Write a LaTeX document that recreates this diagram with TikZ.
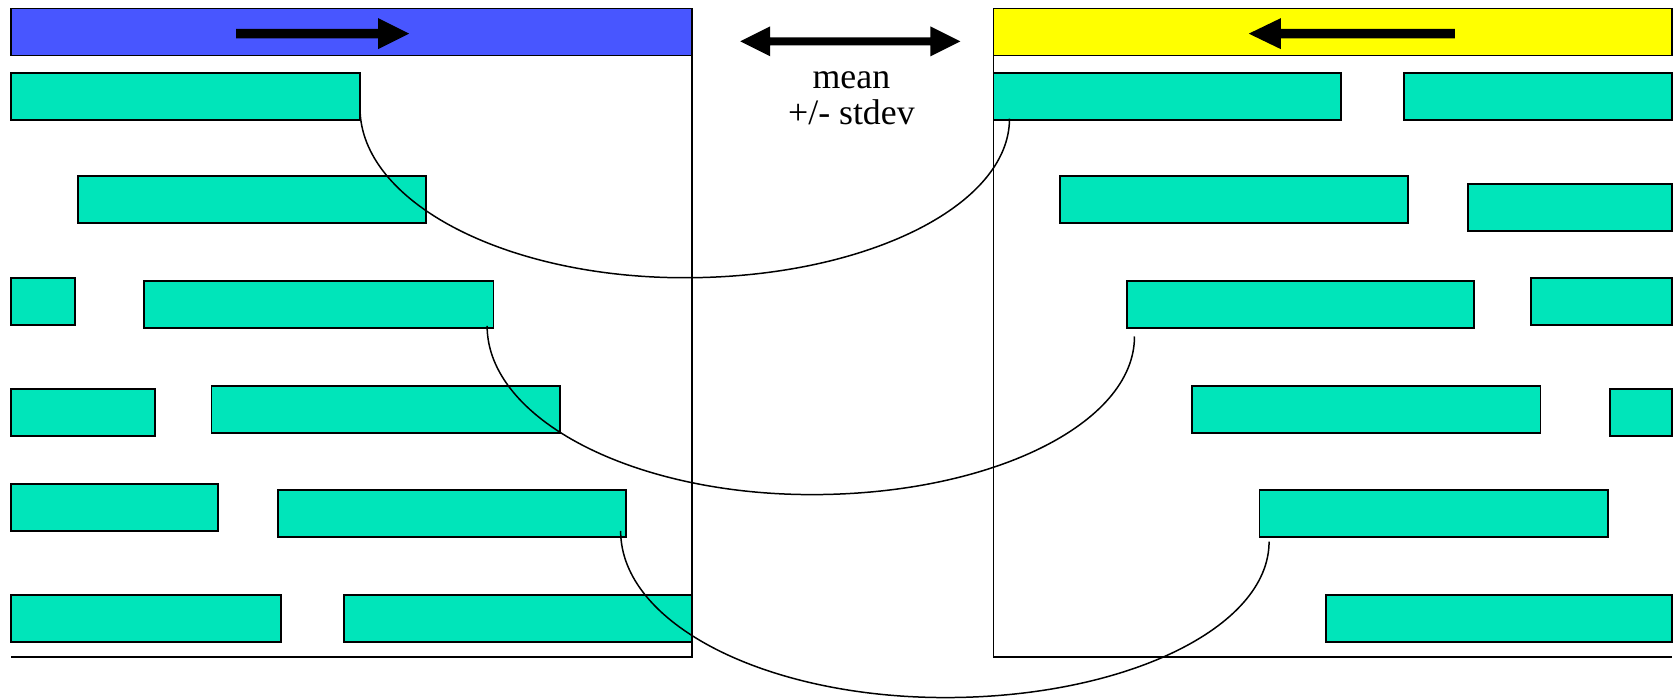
\documentclass[tikz,border=0pt]{standalone}
\usepackage{fontspec}
\setmainfont{Liberation Serif}
\definecolor{barblue}{RGB}{72,86,255}
\definecolor{baryellow}{RGB}{255,255,0}
\definecolor{segteal}{RGB}{0,229,186}
\begin{document}
\begin{tikzpicture}[x=1pt,y=-1pt,
  headbar/.style={draw=black, line width=1.7pt, inner sep=0pt, outer sep=0pt,
    anchor=north west, minimum height=44pt},
  segbox/.style={draw=black, fill=segteal, line width=1.7pt, inner sep=0pt,
    outer sep=0pt, anchor=north west, minimum height=44pt},
  panel/.style={draw=black, line width=1.4pt},
  link/.style={draw=black, line width=1.4pt},
  label/.style={font=\fontsize{33.5}{34}\selectfont, align=center, inner sep=0pt}]
  \useasboundingbox (0,0) rectangle (1568,655);

  % strand bars
  \node[headbar, fill=barblue, minimum width=638pt] (lbar) at (10,8) {};
  \node[headbar, fill=baryellow, minimum width=635pt] (rbar) at (930,8) {};

  % direction arrows inside the bars
  \fill[black] (221,27) -- (354,27) -- (354,17) -- (383,31.5) -- (354,46)
    -- (354,36) -- (221,36) -- cycle;
  \fill[black] (1362,27) -- (1199,27) -- (1199,17) -- (1169,31.5) -- (1199,46)
    -- (1199,36) -- (1362,36) -- cycle;

  % insert size arrow and its label
  \fill[black] (693,38.7) -- (721,24.7) -- (721,35) -- (871,35) -- (871,24.7)
    -- (899,38.7) -- (871,52.7) -- (871,42.4) -- (721,42.4) -- (721,52.7) -- cycle;
  \node[label] (gap) at (797,92) {mean\\+/- stdev};

  % panel frames
  \coordinate (lfoot) at (648,615);
  \coordinate (lbase) at (10,615);
  \coordinate (rfoot) at (930,615);
  \coordinate (rbase) at (1565,615);
  \draw[panel] (lbar.south east) -- (lfoot) -- (lbase);
  \draw[panel] (rbar.south west) -- (rfoot) -- (rbase);

  % left reads
  \node[segbox, minimum width=327pt] (L1)  at (10,68)  {};
  \node[segbox, minimum width=326pt] (L2)  at (73,165) {};
  \node[segbox, minimum width=60pt]  (L3a) at (10,260) {};
  \node[segbox, minimum width=327pt] (L3b) at (135,263) {};
  \node[segbox, minimum width=135pt] (L4a) at (10,364) {};
  \node[segbox, minimum width=326pt] (L4b) at (198,361) {};
  \node[segbox, minimum width=194pt] (L5a) at (10,453) {};
  \node[segbox, minimum width=326pt] (L5b) at (260,459) {};
  \node[segbox, minimum width=253pt] (L6a) at (10,557) {};
  \node[segbox, minimum width=326pt] (L6b) at (322,557) {};

  % right reads
  \node[segbox, minimum width=325pt] (R1a) at (930,68)  {};
  \node[segbox, minimum width=251pt] (R1b) at (1314,68) {};
  \node[segbox, minimum width=326pt] (R2a) at (992,165) {};
  \node[segbox, minimum width=191pt] (R2b) at (1374,172) {};
  \node[segbox, minimum width=325pt] (R3a) at (1055,263) {};
  \node[segbox, minimum width=132pt] (R3b) at (1433,260) {};
  \node[segbox, minimum width=326pt] (R4a) at (1116,361) {};
  \node[segbox, minimum width=58pt]  (R4b) at (1507,364) {};
  \node[segbox, minimum width=326pt] (R5)  at (1179,459) {};
  \node[segbox, minimum width=324pt] (R6)  at (1241,557) {};

  % pair links
  \coordinate (p1s) at (337,101);
  \coordinate (p1b) at (641,260);
  \coordinate (p1e) at (945,111);
  \coordinate (p2s) at (456,305);
  \coordinate (p2b) at (760,463);
  \coordinate (p2e) at (1062,315);
  \coordinate (p3s) at (581,497);
  \coordinate (p3b) at (885,653);
  \coordinate (p3e) at (1188,507);
  \draw[link] (p1s) .. controls +(0,88) and +(-168,0) .. (p1b)
    .. controls +(168,0) and +(0,82) .. (p1e);
  \draw[link] (p2s) .. controls +(0,87) and +(-168,0) .. (p2b)
    .. controls +(167,0) and +(0,82) .. (p2e);
  \draw[link] (p3s) .. controls +(0,87) and +(-168,0) .. (p3b)
    .. controls +(167,0) and +(0,81) .. (p3e);
\end{tikzpicture}
\end{document}
